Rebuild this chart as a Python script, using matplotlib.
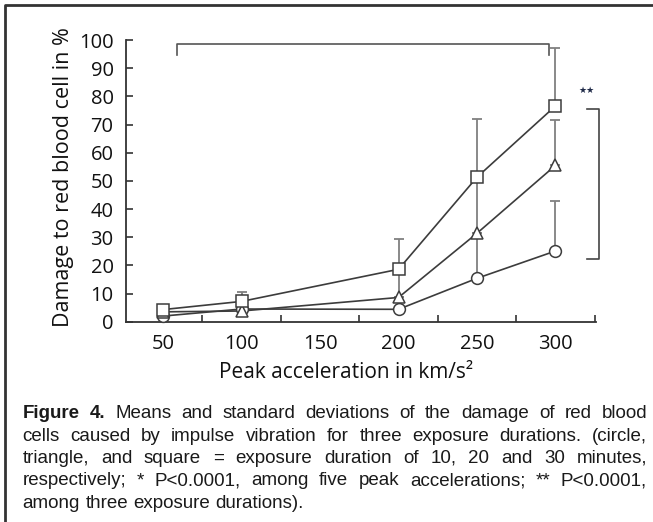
import numpy as np
import matplotlib
matplotlib.use("Agg")
import matplotlib.pyplot as plt
from matplotlib.lines import Line2D

# peak accelerations (km/s^2)
accel = [50, 100, 200, 250, 300]
# mean damage (%) per exposure duration
circle_10 = [2.0, 4.5, 4.4, 15.4, 25.1]
triangle_20 = [3.5, 3.8, 8.6, 31.4, 55.5]
square_30 = [4.3, 7.2, 18.6, 51.3, 76.6]
# upper standard deviations
circle_sd = [1.0, 1.0, 4.5, 16.0, 17.7]
triangle_sd = [1.0, 2.0, 9.5, 20.0, 16.0]
square_sd = [1.8, 3.5, 10.7, 20.7, 20.6]

xtick_labels = [50, 100, 150, 200, 250, 300]
xtick_minor = [75, 125, 175, 225, 275, 325]

caption = [
    "Figure 4. Means and standard deviations of the damage of red blood",
    "cells caused by impulse vibration for three exposure durations. (circle,",
    "triangle, and square = exposure duration of 10, 20 and 30 minutes,",
    "respectively; * P<0.0001, among five peak accelerations; ** P<0.0001,",
    "among three exposure durations).",
]

W, H = 653, 522
fig = plt.figure(figsize=(W / 100, H / 100), dpi=100)
axfont = "Open Sans"
dark = "#333333"

ax = fig.add_axes([126 / W, 1 - 321.7 / H, (596 - 126) / W, (321.7 - 40) / H])

series = [(circle_10, circle_sd, "o"), (triangle_20, triangle_sd, "^"), (square_30, square_sd, "s")]
for vals, sd, mk in series:
    ax.errorbar(accel, vals, yerr=[np.zeros(len(sd)), sd], fmt="none", ecolor="#808080",
                elinewidth=1.3, capsize=3.5, capthick=1.3, zorder=1, clip_on=False)
for vals, sd, mk in series:
    ax.plot(accel, vals, color="#3c3c3c", lw=1.2, zorder=2, clip_on=False)
for vals, sd, mk in series:
    ax.plot(accel, vals, ls="none", marker=mk, ms=8 if mk != "o" else 8.5, mfc="white",
            mec="#3c3c3c", mew=1.1, zorder=3, clip_on=False)

ax.set_xlim(26.4, 325.8)
ax.set_ylim(0, 100)
ax.spines["top"].set_visible(False)
ax.spines["right"].set_visible(False)
for s in ["left", "bottom"]:
    ax.spines[s].set_color(dark)
    ax.spines[s].set_linewidth(1.3)

ax.set_xticks(xtick_labels)
ax.set_xticklabels([str(v) for v in xtick_labels])
ax.set_xticks(xtick_minor, minor=True)
ax.tick_params(axis="x", which="major", length=0, pad=9, labelsize=14.5, labelcolor="#111111")
ax.tick_params(axis="x", which="minor", direction="in", length=5, width=1.2, color=dark)
ax.set_yticks(np.arange(0, 101, 10))
ax.tick_params(axis="y", direction="in", length=5, width=1.2, color=dark, pad=9,
               labelsize=14.5, labelcolor="#111111")
for lab in ax.get_xticklabels() + ax.get_yticklabels():
    lab.set_fontfamily(axfont)

# significance brackets
ax.plot([58.9, 58.9, 295.9, 295.9], [94.7, 98.6, 98.6, 94.7], color="#555555", lw=1.2, clip_on=False)
ax.plot([320, 327.7, 327.7, 320], [75.4, 75.4, 22.4, 22.4], color="#444444", lw=1.2, clip_on=False)
ax.text(320, 82, "★★", fontsize=6.5, color="#1f2a48", ha="center", va="center",
        family="DejaVu Sans")

fig.text(64 / W, 1 - 177.5 / H, "Damage to red blood cell in %", rotation=90, ha="center",
         va="center", fontsize=15.5, family=axfont, color="#111111")
fig.text(346 / W, 1 - 378 / H, "Peak acceleration in km/s²", ha="center", va="baseline",
         fontsize=15, family=axfont, color="#111111")

# figure frame (top and left)
fig.add_artist(Line2D([4.5 / W, 4.5 / W, 1], [0, 1 - 4.5 / H, 1 - 4.5 / H],
                      transform=fig.transFigure, color="#333333", lw=2))

# justified caption
renderer = fig.canvas.get_renderer()
x0, x1 = 22.7, 647.0
base0, dy = 418.3, 22.3
cap_size = 13.5
for i, line in enumerate(caption):
    words = line.split(" ")
    arts = []
    for j, w in enumerate(words):
        bold = i == 0 and j < 2
        t = fig.text(0, 0, w, fontsize=cap_size, family="Liberation Sans",
                     weight="bold" if bold else "normal", color="#1a1a1a", va="baseline")
        arts.append(t)
    widths = [a.get_window_extent(renderer).width for a in arts]
    if i < len(caption) - 1:
        gap = (x1 - x0 - sum(widths)) / (len(words) - 1)
    else:
        gap = cap_size * 100 / 72 * 0.278
    x = x0
    for a, w in zip(arts, widths):
        a.set_position((x / W, 1 - (base0 + i * dy) / H))
        x += w + gap

fig.savefig("out.png", dpi=100)
